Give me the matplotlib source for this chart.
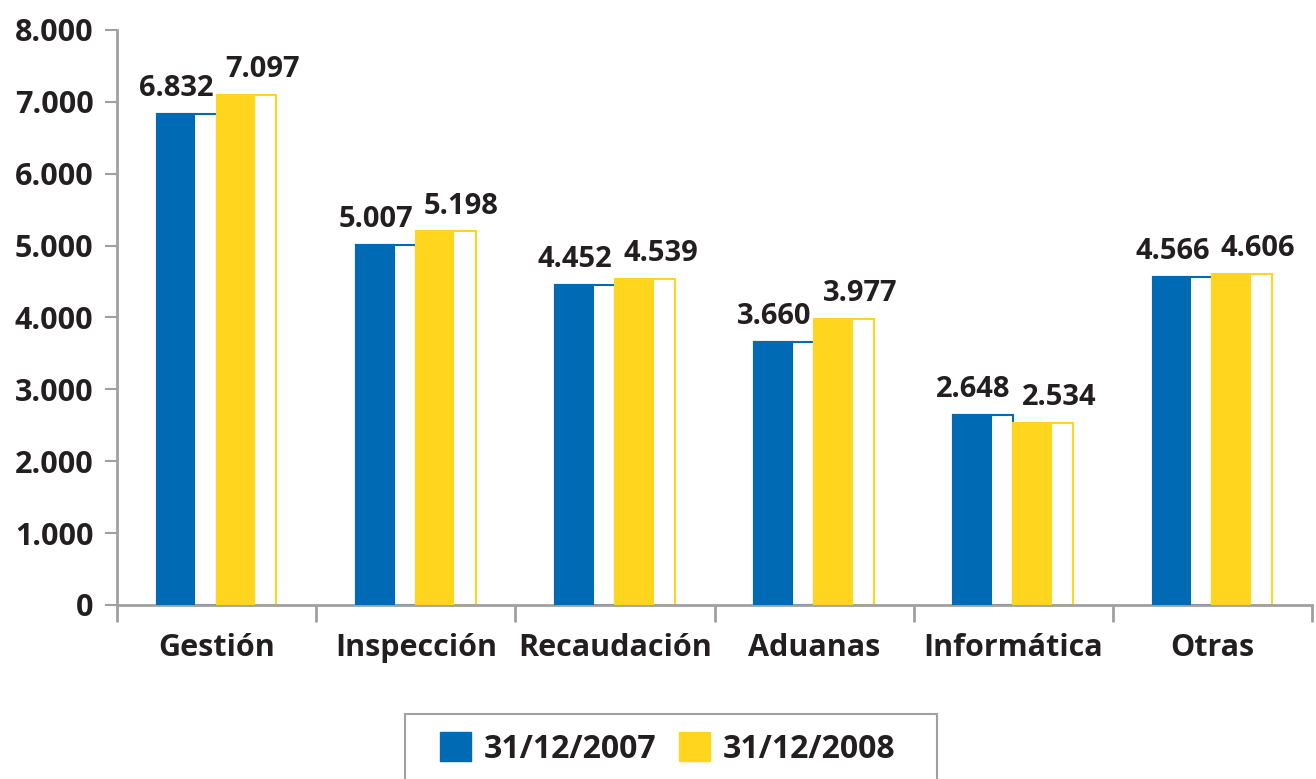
import matplotlib
matplotlib.use("Agg")
import matplotlib.pyplot as plt
from matplotlib.patches import Rectangle, Patch
import numpy as np

categories = ["Gestión", "Inspección", "Recaudación", "Aduanas", "Informática", "Otras"]
series_names = ["31/12/2007", "31/12/2008"]
values_2007 = [6832, 5007, 4452, 3660, 2648, 4566]
values_2008 = [7097, 5198, 4539, 3977, 2534, 4606]
y_ticks = [0, 1000, 2000, 3000, 4000, 5000, 6000, 7000, 8000]
y_tick_labels = ["0", "1.000", "2.000", "3.000", "4.000", "5.000", "6.000", "7.000", "8.000"]

BLUE = "#006AB4"
YELLOW = "#FFD51E"
TEXT = "#231F20"
GRAY = "#A0A0A0"

plt.rcParams['font.family'] = ['Open Sans', 'DejaVu Sans']

def fmt(v):
    return f"{v:,}".replace(",", ".")

fig = plt.figure(figsize=(13.16, 7.79), dpi=100)
ax = fig.add_axes([117/1316, (779-605)/779, 1195/1316, (605-30)/779])

bw = 0.30
fill_frac = 0.63
x = np.arange(len(categories)) + 0.5
series = [(values_2007, BLUE, -bw/2, -0.05), (values_2008, YELLOW, bw/2, 0.08)]
for vals, col, off, loff in series:
    for xi, v in zip(x, vals):
        left = xi + off - bw/2
        ax.add_patch(Rectangle((left, 0), bw, v, facecolor="white", edgecolor=col, lw=1.5, zorder=2))
        ax.add_patch(Rectangle((left, 0), bw*fill_frac, v, facecolor=col, edgecolor=col, lw=1.5, zorder=3))
        ax.text(xi + off + loff, v + 150, fmt(v), ha="center", va="bottom",
                fontsize=21, fontweight="bold", color=TEXT, zorder=4)

ax.set_xlim(0, 6)
ax.set_ylim(0, 8000)
for s in ["top", "right"]:
    ax.spines[s].set_visible(False)
for s in ["left", "bottom"]:
    ax.spines[s].set_color(GRAY)
    ax.spines[s].set_linewidth(2)
ax.spines["left"].set_bounds(0, 8000)

ax.set_yticks(y_ticks)
ax.set_yticklabels(y_tick_labels, fontsize=22, fontweight="bold", color=TEXT)
ax.tick_params(axis="y", length=9, width=1.5, color=GRAY, pad=8)

ax.set_xticks(np.arange(0, 7))
ax.set_xticklabels([])
ax.tick_params(axis="x", length=12, width=2, color=GRAY, direction="out")
ax.set_xticks(x, minor=True)
ax.set_xticklabels(categories, minor=True, fontsize=22, fontweight="bold", color=TEXT)
ax.tick_params(axis="x", which="minor", length=0, pad=20)

# legend box (cut by the bottom edge as in the reference)
fig.patches.append(Rectangle((405/1316, -0.05), (937-405)/1316, 0.05 + (779-714)/779,
                             transform=fig.transFigure, facecolor="white",
                             edgecolor=GRAY, lw=1.5, zorder=1))
handles = [Patch(facecolor=BLUE, edgecolor=BLUE), Patch(facecolor=YELLOW, edgecolor=YELLOW)]
leg = fig.legend(handles, series_names, loc="center left",
                 bbox_to_anchor=(440/1316, 1 - 749/779), ncol=2, frameon=False,
                 prop={"size": 23, "weight": "bold"},
                 handlelength=0.97, handleheight=1.0, columnspacing=0.7,
                 borderpad=0, handletextpad=0.4, borderaxespad=0)
leg.set_zorder(2)
for t in leg.get_texts():
    t.set_color(TEXT)

fig.savefig("out.png", dpi=100)
